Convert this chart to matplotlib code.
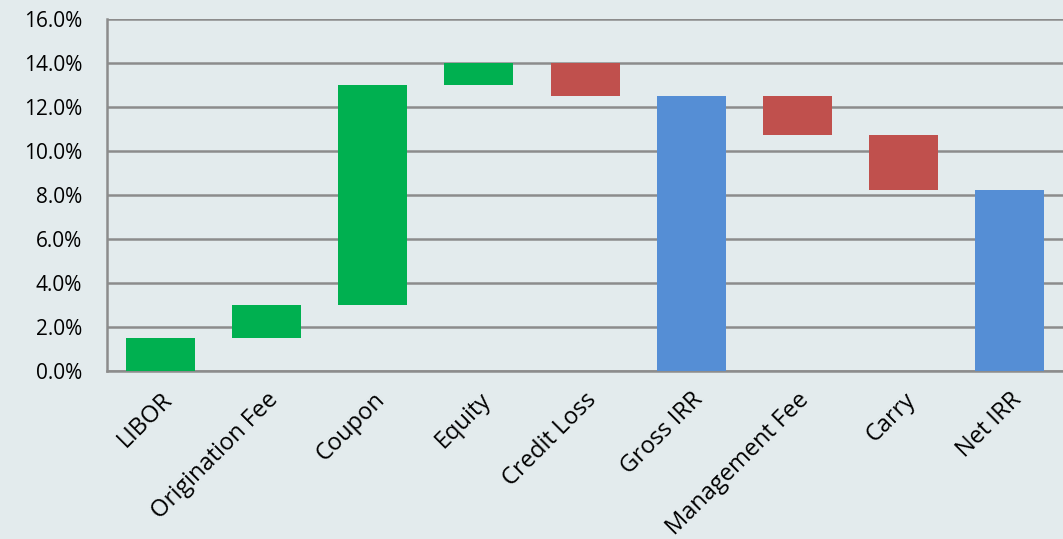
import matplotlib.pyplot as plt
from matplotlib.ticker import PercentFormatter

categories = ["LIBOR", "Origination Fee", "Coupon", "Equity", "Credit Loss",
              "Gross IRR", "Management Fee", "Carry", "Net IRR"]
# change in % per step; None marks a subtotal bar
changes = [1.5, 1.5, 10.0, 1.0, -1.5, None, -1.75, -2.5, None]

green = "#00B050"
red = "#C0504D"
blue = "#558ED5"
bg = "#E3EBED"

plt.rcParams['font.family'] = ['Open Sans', 'DejaVu Sans']

fig = plt.figure(figsize=(10.63, 5.39), dpi=100, facecolor=bg)
ax = fig.add_axes([0.1007, 0.3117, 0.8993, 0.653])
ax.set_facecolor(bg)

running = 0.0
for i, (cat, ch) in enumerate(zip(categories, changes)):
    if ch is None:
        ax.bar(i, running, bottom=0, width=0.65, color=blue, zorder=3)
    else:
        start = running
        running += ch
        color = green if ch > 0 else red
        ax.bar(i, abs(ch), bottom=min(start, running), width=0.65, color=color, zorder=3)

ax.set_xlim(-0.5, len(categories) - 0.5)
ax.set_ylim(0, 16)
ax.set_yticks(range(0, 17, 2))
ax.yaxis.set_major_formatter(PercentFormatter(decimals=1))
ax.grid(axis='y', color="#8C8C8C", linewidth=1.8, zorder=0)

ax.set_xticks(range(len(categories)))
ax.set_xticklabels(categories, rotation=45, ha='right', rotation_mode='anchor')

for s in ["top", "right"]:
    ax.spines[s].set_visible(False)
for s in ["left", "bottom"]:
    ax.spines[s].set_color("#8C8C8C")
    ax.spines[s].set_linewidth(1.8)

ax.tick_params(axis='both', length=0, colors="black")
ax.tick_params(axis='y', pad=18, labelsize=15)
ax.tick_params(axis='x', pad=12, labelsize=17)

fig.savefig("out.png", dpi=100, facecolor=bg)
